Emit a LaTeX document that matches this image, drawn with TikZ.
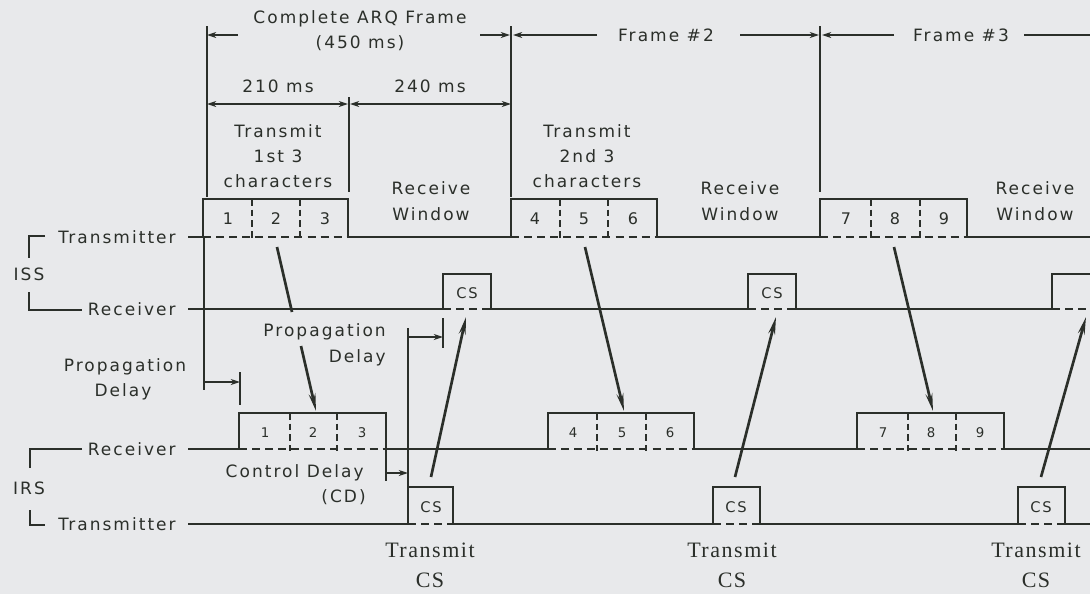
\documentclass[tikz,border=0pt]{standalone}
\usepackage{fontspec}
\setmainfont{DejaVu Sans}
\newfontfamily\plotfont[LetterSpace=12]{DejaVu Sans}
\newfontfamily\serfont[LetterSpace=7]{Liberation Serif}
\usetikzlibrary{arrows.meta}
\definecolor{bg}{HTML}{E8E9EB}
\definecolor{ink}{HTML}{2B2F2A}
\begin{document}
\begin{tikzpicture}[x=0.75pt,y=-0.75pt,
  sigline/.style={draw=ink, line width=2.2pt, line join=miter},
  dashbase/.style={draw=ink, line width=1.5pt, dash pattern=on 6pt off 3.8pt},
  divider/.style={draw=ink, line width=1pt, dash pattern=on 5pt off 3pt},
  dimline/.style={draw=ink, line width=0.8pt},
  dimarrow/.style={draw=ink, line width=0.8pt, -{Stealth[length=7pt,width=4.5pt]}},
  dimboth/.style={draw=ink, line width=0.8pt, {Stealth[length=7pt,width=4.5pt]}-{Stealth[length=7pt,width=4.5pt]}},
  sigarrow/.style={draw=ink, line width=2pt, -{Stealth[length=13pt,width=5pt]}},
  signoarrow/.style={draw=ink, line width=2pt},
  lbl/.style={text=ink, font=\plotfont\fontsize{12.75}{19}\selectfont, inner sep=0pt, align=center},
  bignum/.style={text=ink, font=\plotfont\fontsize{12}{14}\selectfont, inner sep=0pt},
  smallnum/.style={text=ink, font=\plotfont\fontsize{10}{12}\selectfont, inner sep=0pt},
  cs/.style={text=ink, font=\plotfont\fontsize{11}{13}\selectfont, inner sep=0pt},
  ser/.style={text=ink, font=\serfont\fontsize{16.5}{22.5}\selectfont, inner sep=0pt, align=center},
]
\useasboundingbox (0,0) rectangle (1090,594);
\fill[bg] (0,0) rectangle (1090,594);
\clip (0,0) rectangle (1090,594);

% ---------- top dimension lines ----------
\draw[dimline] (207,26) -- (207,197);
\draw[dimline] (349,97) -- (349,192);
\draw[dimline] (511,26) -- (511,197);
\draw[dimline] (820,26) -- (820,192);

\node[lbl] (arqa) at (360,19) {Complete ARQ Frame};
\node[lbl] (arqb) at (360,43) {(450 ms)};
\coordinate (t1a) at (238,35); \coordinate (t1b) at (207,35);
\coordinate (t2a) at (480,35); \coordinate (t2b) at (510,35);
\draw[dimarrow] (t1a) -- (t1b);
\draw[dimarrow] (t2a) -- (t2b);
\node[lbl] (fr2) at (666,35) {Frame \#2};
\node[lbl] (fr3) at (961,35) {Frame \#3};
\coordinate (f2a) at (597,35); \coordinate (f2b) at (513,35);
\coordinate (f2c) at (740,35); \coordinate (f2d) at (819,35);
\coordinate (f3a) at (894,35); \coordinate (f3b) at (822,35);
\coordinate (f3c) at (1024,35); \coordinate (f3d) at (1090,35);
\draw[dimarrow] (f2a) -- (f2b);
\draw[dimarrow] (f2c) -- (f2d);
\draw[dimarrow] (f3a) -- (f3b);
\draw[dimline] (f3c) -- (f3d);

\node[lbl] (ms210) at (278,86) {210 ms};
\node[lbl] (ms240) at (430,86) {240 ms};
\coordinate (m1a) at (207,104); \coordinate (m1b) at (348,104);
\coordinate (m2a) at (350,104); \coordinate (m2b) at (511,104);
\draw[dimboth] (m1a) -- (m1b);
\draw[dimboth] (m2a) -- (m2b);

\node[lbl] (tx1) at (278,156) {Transmit\\1st 3\\characters};
\node[lbl] (tx2) at (587,156) {Transmit\\2nd 3\\characters};
\node[lbl] (rw1) at (431,201) {Receive\\Window};
\node[lbl] (rw2) at (740,201) {Receive\\Window};
\node[lbl] (rw3) at (1035,201) {Receive\\Window};

% ---------- left labels ----------
\node[lbl, anchor=east] (isstx) at (176,237) {Transmitter};
\node[lbl, anchor=east] (issrx) at (176,309) {Receiver};
\node[lbl] (iss) at (29,274) {ISS};
\draw[dimline, line width=1pt] (45,236) -- (29,236) -- (29,258);
\draw[dimline, line width=1pt] (29,292) -- (29,310) -- (82,310);

\node[lbl, anchor=east] (irsrx) at (176,449) {Receiver};
\node[lbl, anchor=east] (irstx) at (176,524) {Transmitter};
\node[lbl] (irs) at (29,488) {IRS};
\draw[dimline, line width=1pt] (82,449) -- (30,449) -- (30,468);
\draw[dimline, line width=1pt] (30,510) -- (30,525) -- (45,525);

% ---------- ISS transmitter ----------
\draw[sigline] (188,237) -- (203,237) |- (348,199) -- (348,237) -- (511,237) |- (657,199) -- (657,237) -- (820,237) |- (967,199) -- (967,237) -- (1090,237);
\foreach \a/\b in {203/348, 511/657, 820/967} \draw[dashbase] (\a,237) -- (\b,237);
\foreach \x in {252,300,560,608,871,920} \draw[divider] (\x,199) -- (\x,239);
\foreach \x/\t in {228/1,276/2,325/3,535/4,584/5,633/6,846/7,895/8,944/9}
  \node[bignum] at (\x,219) {\t};

% ---------- ISS receiver ----------
\draw[sigline] (188,309) -- (443,309) |- (491,274) -- (491,309) -- (748,309) |- (796,274) -- (796,309) -- (1052,309) |- (1100,274) -- (1100,309);
\foreach \a/\b in {443/491, 748/796, 1052/1100} \draw[dashbase] (\a,309) -- (\b,309);
\node[cs] (csr1) at (467,293) {CS};
\node[cs] (csr2) at (772,293) {CS};

% ---------- IRS receiver ----------
\draw[sigline] (188,449) -- (239,449) |- (386,413) -- (386,449) -- (548,449) |- (694,413) -- (694,449) -- (857,449) |- (1004,413) -- (1004,449) -- (1090,449);
\foreach \a/\b in {239/386, 548/694, 857/1004} \draw[dashbase] (\a,449) -- (\b,449);
\foreach \x in {290,337,597,646,908,956} \draw[divider] (\x,413) -- (\x,451);
\foreach \x/\t in {265/1,313/2,362/3,573/4,622/5,670/6,883/7,931/8,980/9}
  \node[smallnum] at (\x,433) {\t};

% ---------- IRS transmitter ----------
\draw[sigline] (188,524) -- (408,524) |- (453,487) -- (453,524) -- (713,524) |- (760,487) -- (760,524) -- (1018,524) |- (1065,487) -- (1065,524) -- (1090,524);
\foreach \a/\b in {408/453, 713/760, 1018/1065} \draw[dashbase] (\a,524) -- (\b,524);
\node[cs] (cst1) at (431,507) {CS};
\node[cs] (cst2) at (736,507) {CS};
\node[cs] (cst3) at (1041,507) {CS};

\node[ser] (tcs1) at (430,565) {Transmit\\CS};
\node[ser] (tcs2) at (732,565) {Transmit\\CS};
\node[ser] (tcs3) at (1036,565) {Transmit\\CS};

% ---------- propagation / control delays ----------
\draw[dimline] (204,237) -- (204,390);
\coordinate (pd1a) at (204,382); \coordinate (pd1b) at (240,382);
\draw[dimarrow] (pd1a) -- (pd1b);
\draw[dimline] (240,372) -- (240,405);
\node[lbl] (pdl1) at (125,367) {Propagation};
\node[lbl] (pdl2) at (123,392) {Delay};

\draw[dimline] (408,328) -- (408,487);
\coordinate (pd2a) at (408,337); \coordinate (pd2b) at (443,337);
\draw[dimarrow] (pd2a) -- (pd2b);
\draw[dimline] (443,318) -- (443,348);
\node[lbl, anchor=east] (pdm1) at (386,332) {Propagation};
\node[lbl, anchor=east] (pdm2) at (386,358) {Delay};

\draw[dimline] (386,449) -- (386,481);
\coordinate (cda) at (386,473); \coordinate (cdb) at (408,473);
\draw[dimarrow] (cda) -- (cdb);
\node[lbl, anchor=east] (cdl1) at (364,473) {Control Delay};
\node[lbl, anchor=east] (cdl2) at (366,497) {(CD)};

% ---------- signal arrows ----------
\coordinate (d1s) at (277,247); \coordinate (d1m) at (292,312);
\coordinate (d1r) at (301,346); \coordinate (d1e) at (316,411);
\draw[signoarrow] (d1s) -- (d1m);
\draw[sigarrow] (d1r) -- (d1e);
\coordinate (d2s) at (585,247); \coordinate (d2e) at (624,411);
\draw[sigarrow] (d2s) -- (d2e);
\coordinate (d3s) at (894,247); \coordinate (d3e) at (933,411);
\draw[sigarrow] (d3s) -- (d3e);

\coordinate (u1s) at (431,477); \coordinate (u1e) at (466,317);
\draw[sigarrow] (u1s) -- (u1e);
\coordinate (u2s) at (735,477); \coordinate (u2e) at (776,317);
\draw[sigarrow] (u2s) -- (u2e);
\coordinate (u3s) at (1041,477); \coordinate (u3e) at (1086,317);
\draw[sigarrow] (u3s) -- (u3e);
\end{tikzpicture}
\end{document}
